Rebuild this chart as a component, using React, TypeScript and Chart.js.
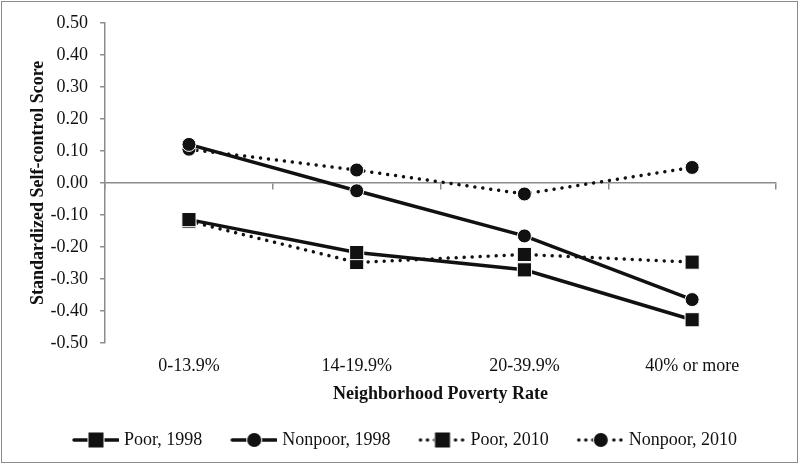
import React, { useEffect, useRef } from "react";
import { Chart, registerables } from "chart.js";

Chart.register(...registerables);

const categories = ["0-13.9%", "14-19.9%", "20-39.9%", "40% or more"];
const poor1998 = [-0.115, -0.218, -0.272, -0.428];
const nonpoor1998 = [0.12, -0.025, -0.166, -0.365];
const poor2010 = [-0.12, -0.249, -0.224, -0.248];
const nonpoor2010 = [0.105, 0.04, -0.035, 0.048];
const seriesLabels = ["Poor, 1998", "Nonpoor, 1998", "Poor, 2010", "Nonpoor, 2010"];

const FONT = "'Liberation Serif', 'Times New Roman', serif";
const INK = "#111111";
const AXIS = "#8c8c8c";

const LEG_BOX = 48;
const LEG_IMG = LEG_BOX + 8;

// legend sample: 48px wide line+marker, drawn in the right part of the image
function legendImage(dotted: boolean, square: boolean): HTMLCanvasElement {
  const c = document.createElement("canvas");
  c.width = LEG_IMG;
  c.height = 20;
  const ctx = c.getContext("2d")!;
  const ox = LEG_IMG - 48;
  ctx.strokeStyle = INK;
  ctx.fillStyle = INK;
  ctx.lineCap = "round";
  ctx.lineWidth = 3.5;
  if (dotted) {
    ctx.setLineDash([0.01, 7]);
    ctx.beginPath();
    ctx.moveTo(ox + 3, 10);
    ctx.lineTo(ox + 48, 10);
    ctx.stroke();
    ctx.setLineDash([]);
  } else {
    ctx.beginPath();
    ctx.moveTo(ox + 3, 10);
    ctx.lineTo(ox + 47, 10);
    ctx.stroke();
  }
  const cx = ox + 25;
  if (square) {
    ctx.fillStyle = "#fff";
    ctx.fillRect(cx - 8.5, 1.5, 17, 17);
    ctx.fillStyle = INK;
    ctx.fillRect(cx - 7.5, 2.5, 15, 15);
  } else {
    ctx.beginPath();
    ctx.fillStyle = "#fff";
    ctx.arc(cx, 10, 8, 0, Math.PI * 2);
    ctx.fill();
    ctx.beginPath();
    ctx.fillStyle = INK;
    ctx.arc(cx, 10, 7, 0, Math.PI * 2);
    ctx.fill();
  }
  return c;
}

export default function App() {
  const ref = useRef<HTMLCanvasElement | null>(null);

  useEffect(() => {
    document.body.style.margin = "0";
    const canvas = ref.current;
    if (!canvas) return;

    const mk = (label: string, data: number[], dotted: boolean, square: boolean) => ({
      label,
      data,
      borderColor: INK,
      backgroundColor: INK,
      borderWidth: 3.5,
      borderDash: dotted ? [0.01, 8] : [],
      borderCapStyle: dotted ? ("round" as const) : ("butt" as const),
      pointStyle: square ? ("rect" as const) : ("circle" as const),
      pointRadius: square ? 10 : 7,
      pointBorderWidth: 1,
      pointBorderColor: "#ffffff",
      pointBackgroundColor: INK,
      pointHoverRadius: square ? 10 : 7,
      tension: 0,
      fill: false,
      xAxisID: "x",
    });

    const styles: [boolean, boolean][] = [
      [false, true],
      [false, false],
      [true, true],
      [true, false],
    ];
    const images = styles.map(([d, s]) => legendImage(d, s));

    const chart = new Chart(canvas, {
      type: "line",
      data: {
        labels: categories,
        datasets: [
          mk(seriesLabels[0], poor1998, false, true),
          mk(seriesLabels[1], nonpoor1998, false, false),
          mk(seriesLabels[2], poor2010, true, true),
          mk(seriesLabels[3], nonpoor2010, true, false),
        ],
      },
      options: {
        animation: false,
        responsive: false,
        maintainAspectRatio: false,
        layout: { padding: { left: 28, right: 24, top: 16, bottom: 9 } },
        plugins: {
          tooltip: { enabled: false },
          legend: {
            position: "bottom",
            align: "center",
            labels: {
              usePointStyle: true,
              pointStyleWidth: LEG_BOX,
              padding: 23,
              color: INK,
              font: { family: FONT, size: 18 },
              generateLabels: (ch: any) =>
                ch.data.datasets.map((ds: any, i: number) => ({
                  text: ds.label,
                  pointStyle: images[i],
                  fillStyle: "transparent",
                  strokeStyle: "transparent",
                  lineWidth: 0,
                  hidden: false,
                  datasetIndex: i,
                  fontColor: INK,
                })),
            },
          },
        },
        scales: {
          x: {
            type: "category",
            position: "bottom",
            offset: true,
            grid: { display: false },
            border: { display: false },
            ticks: {
              color: INK,
              padding: 5,
              font: { family: FONT, size: 18 },
              maxRotation: 0,
            },
            title: {
              display: true,
              text: "Neighborhood Poverty Rate",
              color: INK,
              font: { family: FONT, size: 18, weight: "bold" },
              padding: { top: 1, bottom: 3 },
            },
          },
          x2: {
            type: "category",
            labels: categories,
            position: { y: 0 } as any,
            offset: true,
            grid: {
              display: true,
              drawOnChartArea: false,
              drawTicks: true,
              tickLength: 6,
              color: AXIS,
              lineWidth: 1.5,
              offset: true,
            },
            border: { display: true, color: AXIS, width: 1.5 },
            ticks: { display: false },
          },
          y: {
            min: -0.5,
            max: 0.5,
            ticks: {
              stepSize: 0.1,
              color: INK,
              padding: 12,
              font: { family: FONT, size: 18 },
              callback: (v: any) => Number(v).toFixed(2),
            },
            grid: {
              drawOnChartArea: false,
              drawTicks: true,
              tickLength: 5,
              color: AXIS,
              lineWidth: 1.5,
            },
            border: { display: true, color: AXIS, width: 1.5 },
            title: {
              display: true,
              text: "Standardized Self-control Score",
              color: INK,
              font: { family: FONT, size: 18, weight: "bold" },
              padding: { top: 0, bottom: -11 },
            },
          },
        },
      },
    });

    return () => chart.destroy();
  }, []);

  return (
    <div style={{ position: "relative", width: 800, height: 468, background: "#fff" }}>
      <canvas ref={ref} width={800} height={468} style={{ position: "absolute", left: 0, top: 0 }} />
      <div
        style={{
          position: "absolute",
          left: 1,
          top: 1,
          width: 795,
          height: 460,
          border: "1.5px solid #8c8c8c",
          pointerEvents: "none",
        }}
      />
    </div>
  );
}
